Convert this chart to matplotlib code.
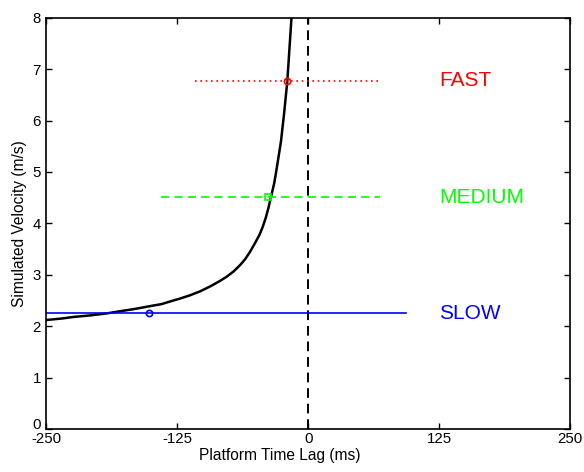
import numpy as np
from matplotlib import pyplot as plt
from matplotlib import transforms

# curve (platform time lag in ms, velocity in m/s)
lag = [-250, -235, -224, -208, -192, -180, -167, -151, -140, -132, -122, -113,
       -103, -94, -86, -78, -71, -65, -60, -55.5, -51, -46.5, -43.5, -40.7,
       -38, -35.6, -32.5, -30.9, -28, -26, -23.2, -20, -18, -16]
vel = [2.12, 2.15, 2.18, 2.21, 2.25, 2.29, 2.33, 2.39, 2.43, 2.48, 2.54, 2.60,
       2.68, 2.77, 2.86, 2.96, 3.07, 3.19, 3.31, 3.45, 3.61, 3.78, 3.93, 4.10,
       4.30, 4.51, 4.78, 4.97, 5.34, 5.60, 6.11, 6.76, 7.38, 8.0]

# the three speed conditions
names = ['FAST', 'MEDIUM', 'SLOW']
colors = ['#ff0000', '#00ff00', '#0000ff']
speed = [6.77, 4.51, 2.25]
marker_lag = [-20, -38.5, -152]
line_start = [-108, -141, -250]
line_end = [67, 69, 93]
styles = [(0, (1, 2.2)), (0, (5, 3)), '-']
markers = ['o', 's', 'o']
label_lag = 125

plt.rcParams['font.family'] = ['Liberation Sans', 'DejaVu Sans']
plt.rcParams['axes.unicode_minus'] = False

fig = plt.figure(figsize=(5.84, 4.72), dpi=100)
ax = fig.add_axes([0.0796, 0.0911, 0.8964, 0.8714])

ax.axvline(0, color='k', ls=(0, (5, 3)), lw=1.4)
ax.plot(lag, vel, color='k', lw=1.8)

for i in range(len(names)):
    ax.plot([line_start[i], line_end[i]], [speed[i], speed[i]], color=colors[i],
            ls=styles[i], lw=1.2)
    ax.plot(marker_lag[i], speed[i], marker=markers[i], mfc='none', mec=colors[i],
            ms=4.5, mew=1.2)
    ax.text(label_lag, speed[i], names[i], color=colors[i], fontsize=15,
            ha='left', va='center')

ax.set_xlim(-250, 250)
ax.set_ylim(0, 8)
ax.set_xticks([-250, -125, 0, 125, 250])
ax.set_yticks(range(0, 9))
ax.tick_params(direction='in', top=True, right=True, length=4.5, width=1,
               labelsize=10.8)
ax.tick_params(axis='x', pad=2)
ax.tick_params(axis='y', pad=4)
for s in ax.spines.values():
    s.set_linewidth(1.2)

# lift the bottom y label a little so it clears -250
fig.canvas.draw()
zero = ax.get_yticklabels()[0]
zero.set_transform(zero.get_transform() + transforms.ScaledTranslation(0, 6 / 100, fig.dpi_scale_trans))

ax.set_xlabel('Platform Time Lag (ms)', fontsize=11.2)
ax.set_ylabel('Simulated Velocity (m/s)', fontsize=11.2)
ax.xaxis.set_label_coords(0.446, -0.046)
ax.yaxis.set_label_coords(-0.037, 0.5)

plt.savefig('out.png')
